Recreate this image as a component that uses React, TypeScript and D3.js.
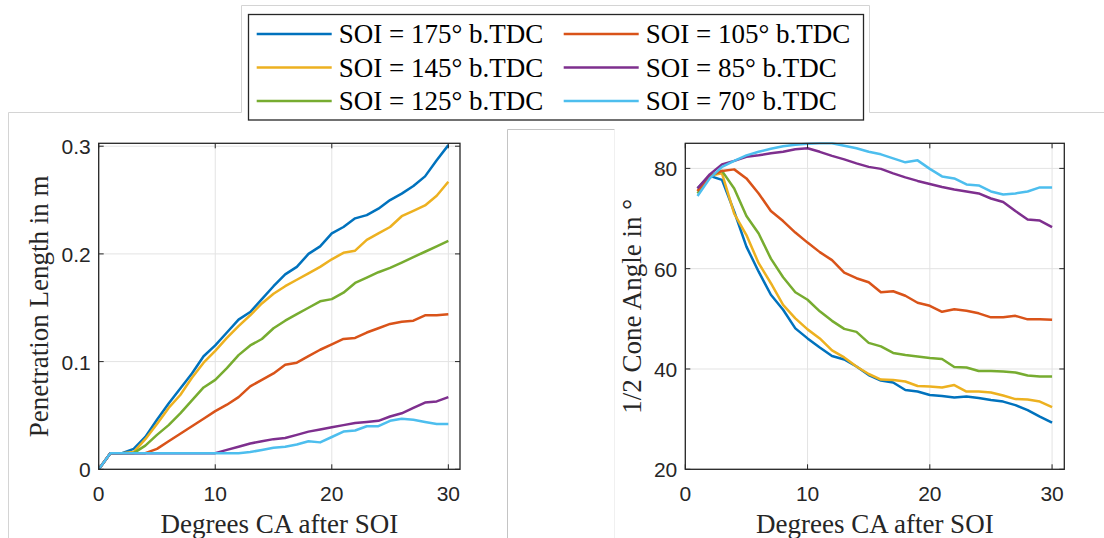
import React from "react";
import * as d3 from "d3";

const seriesNames = [
  "SOI = 175° b.TDC",
  "SOI = 145° b.TDC",
  "SOI = 125° b.TDC",
  "SOI = 105° b.TDC",
  "SOI = 85° b.TDC",
  "SOI = 70° b.TDC",
];
const seriesColors = ["#0072BD", "#EDB120", "#77AC30", "#D95319", "#7E2F8E", "#4DBEEE"];

// Left panel: penetration length (m), x = 0..30
const penX = d3.range(0, 31);
const pen175 = [0, 0.015, 0.015, 0.019, 0.030, 0.046, 0.061, 0.075, 0.089, 0.105, 0.115, 0.127, 0.139, 0.146, 0.158, 0.170, 0.181, 0.188, 0.200, 0.207, 0.219, 0.225, 0.233, 0.236, 0.242, 0.250, 0.256, 0.263, 0.272, 0.287, 0.301];
const pen145 = [0, 0.015, 0.015, 0.016, 0.028, 0.042, 0.057, 0.069, 0.085, 0.099, 0.110, 0.122, 0.133, 0.143, 0.154, 0.163, 0.170, 0.176, 0.182, 0.188, 0.195, 0.201, 0.203, 0.213, 0.219, 0.225, 0.235, 0.240, 0.245, 0.254, 0.267];
const pen125 = [0, 0.015, 0.015, 0.015, 0.022, 0.032, 0.041, 0.052, 0.064, 0.076, 0.083, 0.094, 0.106, 0.115, 0.121, 0.131, 0.138, 0.144, 0.150, 0.156, 0.158, 0.164, 0.173, 0.178, 0.183, 0.187, 0.192, 0.197, 0.202, 0.207, 0.212];
const pen105 = [0, 0.015, 0.015, 0.015, 0.015, 0.019, 0.026, 0.033, 0.040, 0.047, 0.054, 0.060, 0.067, 0.077, 0.083, 0.089, 0.097, 0.099, 0.105, 0.111, 0.116, 0.121, 0.122, 0.127, 0.131, 0.135, 0.137, 0.138, 0.143, 0.143, 0.144];
const pen85 = [0, 0.015, 0.015, 0.015, 0.015, 0.015, 0.015, 0.015, 0.015, 0.015, 0.015, 0.018, 0.021, 0.024, 0.026, 0.028, 0.029, 0.032, 0.035, 0.037, 0.039, 0.041, 0.043, 0.044, 0.045, 0.049, 0.052, 0.057, 0.062, 0.063, 0.067];
const pen70 = [0, 0.015, 0.015, 0.015, 0.015, 0.015, 0.015, 0.015, 0.015, 0.015, 0.015, 0.015, 0.015, 0.016, 0.018, 0.020, 0.021, 0.023, 0.026, 0.025, 0.030, 0.035, 0.036, 0.040, 0.040, 0.045, 0.047, 0.046, 0.044, 0.042, 0.042];

// Right panel: half cone angle (deg), x = 1..30
const coneX = d3.range(1, 31);
const cone175 = [76.0, 78.5, 77.7, 71.4, 64.4, 59.4, 54.8, 51.8, 48.1, 46.1, 44.3, 42.6, 41.9, 40.5, 38.8, 37.7, 37.3, 35.8, 35.5, 34.8, 34.6, 34.3, 34.5, 34.2, 33.8, 33.5, 32.8, 31.8, 30.5, 29.3];
const cone145 = [75.5, 78.5, 79.0, 71.0, 66.7, 61.1, 57.1, 52.8, 50.1, 47.9, 46.1, 43.7, 42.3, 40.5, 39.0, 37.9, 37.8, 37.5, 36.6, 36.5, 36.3, 36.8, 35.5, 35.5, 35.3, 34.7, 34.0, 33.9, 33.5, 32.4];
const cone125 = [75.0, 78.5, 79.5, 76.0, 70.5, 67.0, 62.0, 58.3, 55.3, 53.8, 51.5, 49.6, 48.0, 47.4, 45.2, 44.5, 43.2, 42.8, 42.5, 42.2, 42.0, 40.4, 40.3, 39.6, 39.6, 39.5, 39.3, 38.7, 38.5, 38.5];
const cone105 = [75.5, 78.5, 79.5, 79.8, 78.0, 75.0, 71.5, 69.5, 67.2, 65.2, 63.3, 61.7, 59.2, 58.1, 57.3, 55.3, 55.5, 54.6, 53.2, 52.6, 51.4, 51.9, 51.6, 51.1, 50.3, 50.3, 50.6, 49.9, 49.9, 49.8];
const cone85 = [76.0, 78.8, 80.8, 81.5, 82.3, 82.6, 83.0, 83.3, 83.8, 84.0, 83.3, 82.5, 81.8, 81.0, 80.3, 79.9, 79.0, 78.2, 77.5, 76.9, 76.3, 75.8, 75.4, 75.0, 74.0, 73.3, 71.5, 69.8, 69.6, 68.3];
const cone70 = [74.5, 78.0, 80.3, 81.5, 82.6, 83.3, 83.9, 84.4, 84.7, 84.9, 85.0, 85.0, 84.5, 84.0, 83.3, 82.8, 82.0, 81.2, 81.6, 79.9, 78.4, 78.0, 76.8, 76.6, 75.4, 74.8, 75.0, 75.4, 76.2, 76.2];

const penSeries = [pen175, pen145, pen125, pen105, pen85, pen70];
const coneSeries = [cone175, cone145, cone125, cone105, cone85, cone70];

const xTicks = [0, 10, 20, 30];
const penTicks = [0, 0.1, 0.2, 0.3];
const penTickLabels = ["0", "0.1", "0.2", "0.3"];
const coneTicks = [20, 40, 60, 80];
const coneTickLabels = ["20", "40", "60", "80"];

const SANS = "'Liberation Sans', Arial, sans-serif";
const SERIF = "'Liberation Serif', 'Times New Roman', serif";
const AXIS = "#262626";
const GRID = "#e3e3e3";

type PanelProps = {
  id: string;
  left: number; right: number; top: number; bottom: number;
  xDomain: [number, number];
  yDomain: [number, number];
  xs: number[];
  series: number[][];
  yTicks: number[];
  yTickLabels: string[];
  yLabel: string;
  yLabelX: number;
};

function Panel(p: PanelProps) {
  const x = d3.scaleLinear().domain(p.xDomain).range([p.left, p.right]);
  const y = d3.scaleLinear().domain(p.yDomain).range([p.bottom, p.top]);
  const line = d3.line<[number, number]>().x((d) => x(d[0])).y((d) => y(d[1]));
  const tl = 5;
  return (
    <g>
      <defs>
        <clipPath id={p.id}>
          <rect x={p.left} y={p.top - 1} width={p.right - p.left} height={p.bottom - p.top + 1} />
        </clipPath>
      </defs>
      <rect x={p.left} y={p.top} width={p.right - p.left} height={p.bottom - p.top} fill="#fff" />
      {xTicks.map((t) => (
        <line key={"gx" + t} x1={x(t)} x2={x(t)} y1={p.top} y2={p.bottom} stroke={GRID} strokeWidth={1} />
      ))}
      {p.yTicks.map((t) => (
        <line key={"gy" + t} x1={p.left} x2={p.right} y1={y(t)} y2={y(t)} stroke={GRID} strokeWidth={1} />
      ))}
      <g clipPath={`url(#${p.id})`}>
        {p.series.map((s, i) => (
          <path
            key={i}
            d={line(s.map((v, j) => [p.xs[j], v] as [number, number])) || ""}
            fill="none"
            stroke={seriesColors[i]}
            strokeWidth={2.5}
            strokeLinejoin="round"
          />
        ))}
      </g>
      {/* ticks */}
      {xTicks.map((t) => (
        <g key={"tx" + t}>
          <line x1={x(t)} x2={x(t)} y1={p.bottom} y2={p.bottom - tl} stroke={AXIS} />
          <line x1={x(t)} x2={x(t)} y1={p.top} y2={p.top + tl} stroke={AXIS} />
          <text x={x(t)} y={p.bottom + 32} textAnchor="middle" fontFamily={SANS} fontSize={21} fill={AXIS}>
            {t}
          </text>
        </g>
      ))}
      {p.yTicks.map((t, i) => (
        <g key={"ty" + t}>
          <line x1={p.left} x2={p.left + tl} y1={y(t)} y2={y(t)} stroke={AXIS} />
          <line x1={p.right} x2={p.right - tl} y1={y(t)} y2={y(t)} stroke={AXIS} />
          <text x={p.left - 8} y={y(t) + 8} textAnchor="end" fontFamily={SANS} fontSize={21} fill={AXIS}>
            {p.yTickLabels[i]}
          </text>
        </g>
      ))}
      <rect x={p.left} y={p.top} width={p.right - p.left} height={p.bottom - p.top} fill="none" stroke={AXIS} strokeWidth={1.3} />
      <text x={(p.left + p.right) / 2} y={p.bottom + 64} textAnchor="middle" fontFamily={SERIF} fontSize={27} fill={AXIS}>
        Degrees CA after SOI
      </text>
      <text
        transform={`translate(${p.yLabelX},${(p.top + p.bottom) / 2}) rotate(-90)`}
        textAnchor="middle"
        fontFamily={SERIF}
        fontSize={27}
        fill={AXIS}
      >
        {p.yLabel}
      </text>
    </g>
  );
}

export default function App() {
  const frame = "#d4d4d4";
  const legendRows = [0, 1, 2];
  return (
    <svg width={1104} height={538} style={{ position: "absolute", left: 0, top: 0, background: "#fff" }}>
      <rect x={0} y={0} width={1104} height={538} fill="#fff" />
      {/* figure frames */}
      <polyline points="8.5,538 8.5,112.5 241.5,112.5 241.5,5.5 869.5,5.5 869.5,112.5 1104,112.5" fill="none" stroke={frame} strokeWidth={1} />
      <polyline points="507.5,538 507.5,129.5 614.5,129.5 614.5,538" fill="none" stroke="#c4c4c4" strokeWidth={1} />
      <line x1={614.5} x2={614.5} y1={129.5} y2={538} stroke="#f0f0f0" />

      <Panel
        id="clipL"
        left={98.7} right={460} top={143.3} bottom={469.3}
        xDomain={[0, 31]} yDomain={[0, 0.3027]}
        xs={penX} series={penSeries}
        yTicks={penTicks} yTickLabels={penTickLabels}
        yLabel="Penetration Length in m" yLabelX={48}
      />
      <Panel
        id="clipR"
        left={685.3} right={1064.3} top={143.3} bottom={469.3}
        xDomain={[0, 31]} yDomain={[20, 85]}
        xs={coneX} series={coneSeries}
        yTicks={coneTicks} yTickLabels={coneTickLabels}
        yLabel="1/2 Cone Angle in °" yLabelX={641}
      />

      {/* legend */}
      <rect x={248.5} y={14.5} width={615} height={105.5} fill="#fff" stroke={AXIS} strokeWidth={1.3} />
      {seriesNames.map((name, i) => {
        const col = i < 3 ? 0 : 1;
        const row = legendRows[i % 3];
        const lx = col === 0 ? 256.7 : 563.7;
        const ty = 34 + row * 33.5;
        return (
          <g key={name}>
            <line x1={lx} x2={lx + 75} y1={ty} y2={ty} stroke={seriesColors[i]} strokeWidth={2.5} />
            <text x={lx + 82} y={ty + 9} fontFamily={SERIF} fontSize={27} fill="#000">
              {name}
            </text>
          </g>
        );
      })}
    </svg>
  );
}
